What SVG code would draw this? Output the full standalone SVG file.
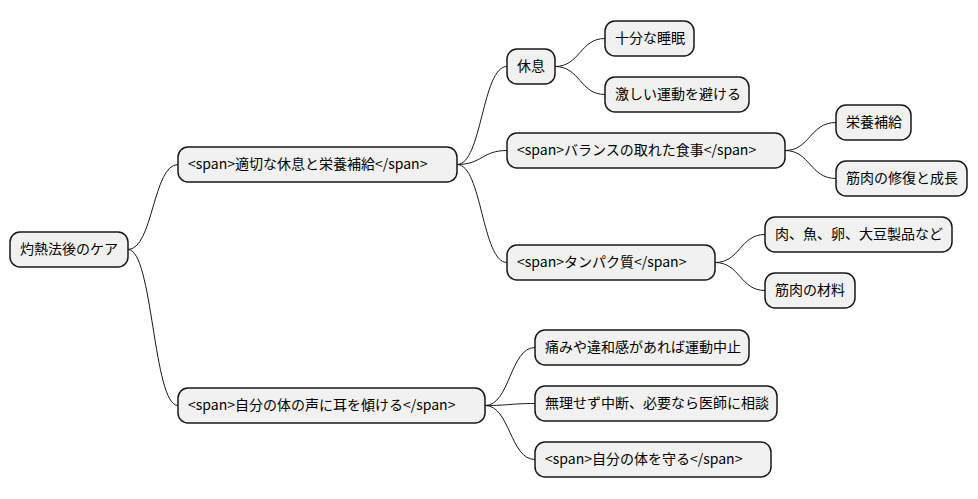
<svg xmlns="http://www.w3.org/2000/svg" width="978" height="499" viewBox="0 0 978 499">
<style>
.n rect{fill:#f1f1f1;stroke:#181818;stroke-width:1.5}
.n text{font-family:"Noto Sans CJK JP","Noto Sans",sans-serif;font-size:14px;fill:#000}
.c path{fill:none;stroke:#181818;stroke-width:1}
</style>
<rect width="978" height="499" fill="#fff"/>
<g class="c">
<path d="M128,249.5 C153,249.5 153,164.5 178,164.5"/>
<path d="M128,249.5 C153,249.5 153,405.5 178,405.5"/>
<path d="M457,164.5 C482,164.5 482,66.5 507,66.5"/>
<path d="M457,164.5 C482,164.5 482,150.5 507,150.5"/>
<path d="M457,164.5 C482,164.5 482,262.5 507,262.5"/>
<path d="M555,66.5 C580,66.5 580,38.5 605,38.5"/>
<path d="M555,66.5 C580,66.5 580,94.5 605,94.5"/>
<path d="M785,150.5 C810,150.5 810,122.5 836,122.5"/>
<path d="M785,150.5 C810,150.5 810,178.5 836,178.5"/>
<path d="M715,262.5 C740,262.5 740,234.5 765,234.5"/>
<path d="M715,262.5 C740,262.5 740,290.5 765,290.5"/>
<path d="M485,405.5 C510,405.5 510,347.5 535,347.5"/>
<path d="M485,405.5 C510,405.5 510,403.5 535,403.5"/>
<path d="M485,405.5 C510,405.5 510,459.5 535,459.5"/>
</g>
<g id="root" class="n"><rect x="10" y="232" width="118" height="35" rx="10"/><text x="20" y="254">灼熱法後のケア</text></g>
<g id="n1" class="n"><rect x="178" y="147" width="279" height="35" rx="10"/><text x="188" y="169">&lt;span&gt;適切な休息と栄養補給&lt;/span&gt;</text></g>
<g id="n2" class="n"><rect x="178" y="388" width="307" height="35" rx="10"/><text x="188" y="410">&lt;span&gt;自分の体の声に耳を傾ける&lt;/span&gt;</text></g>
<g id="n11" class="n"><rect x="507" y="49" width="48" height="35" rx="10"/><text x="517" y="71">休息</text></g>
<g id="n111" class="n"><rect x="605" y="21" width="89" height="35" rx="10"/><text x="615" y="43">十分な睡眠</text></g>
<g id="n112" class="n"><rect x="605" y="77" width="144" height="35" rx="10"/><text x="615" y="99">激しい運動を避ける</text></g>
<g id="n12" class="n"><rect x="507" y="133" width="278" height="35" rx="10"/><text x="517" y="155">&lt;span&gt;バランスの取れた食事&lt;/span&gt;</text></g>
<g id="n121" class="n"><rect x="836" y="105" width="75" height="35" rx="10"/><text x="846" y="127">栄養補給</text></g>
<g id="n122" class="n"><rect x="836" y="161" width="131" height="35" rx="10"/><text x="846" y="183">筋肉の修復と成長</text></g>
<g id="n13" class="n"><rect x="507" y="245" width="208" height="35" rx="10"/><text x="517" y="267">&lt;span&gt;タンパク質&lt;/span&gt;</text></g>
<g id="n131" class="n"><rect x="765" y="217" width="187" height="35" rx="10"/><text x="775" y="239">肉、魚、卵、大豆製品など</text></g>
<g id="n132" class="n"><rect x="765" y="273" width="90" height="35" rx="10"/><text x="775" y="295">筋肉の材料</text></g>
<g id="n21" class="n"><rect x="535" y="330" width="214" height="35" rx="10"/><text x="545" y="352">痛みや違和感があれば運動中止</text></g>
<g id="n22" class="n"><rect x="535" y="386" width="242" height="35" rx="10"/><text x="545" y="408">無理せず中断、必要なら医師に相談</text></g>
<g id="n23" class="n"><rect x="535" y="442" width="236" height="35" rx="10"/><text x="545" y="464">&lt;span&gt;自分の体を守る&lt;/span&gt;</text></g>
</svg>
